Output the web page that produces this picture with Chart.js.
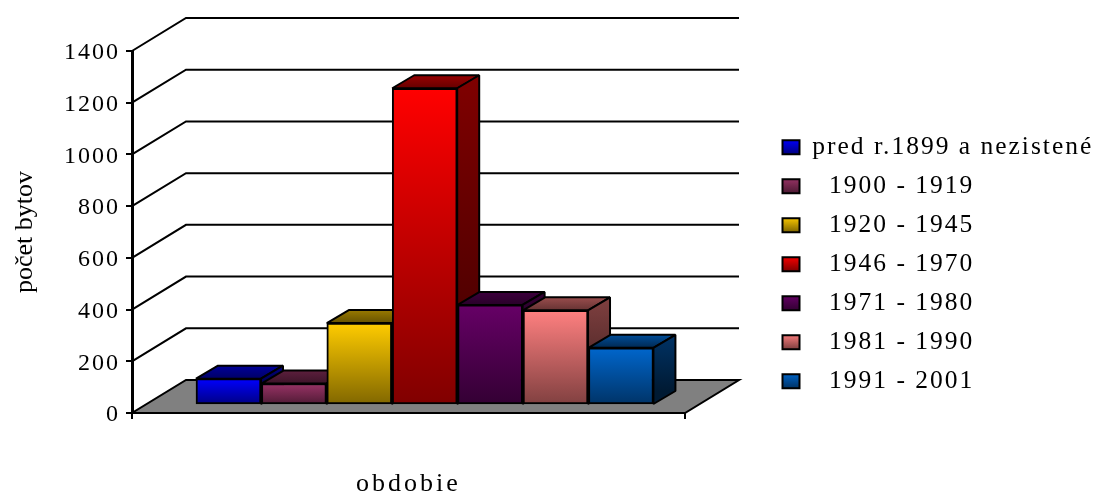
<!DOCTYPE html>
<html>
<head>
<meta charset="utf-8">
<title>počet bytov</title>
<script src="https://cdn.jsdelivr.net/npm/chart.js@4/dist/chart.umd.min.js"></script>
<style>
  html, body { margin: 0; background: #fff; }
  canvas { display: block; }
</style>
</head>
<body>
<canvas id="chart" width="1098" height="491"></canvas>
<script>
const categories = ['pred r.1899 a nezistené', '  1900 - 1919', '  1920 - 1945', '  1946 - 1970', '  1971 - 1980', '  1981 - 1990', '  1991 - 2001'];
const values = [102, 83, 317, 1225, 387, 366, 221];
const yTicks = [0, 200, 400, 600, 800, 1000, 1200, 1400];
const yTitle = 'počet bytov';
const xTitle = 'obdobie';

const topColors = ['#0000ff', '#993366', '#ffcc00', '#ff0000', '#660066', '#ff8080', '#0066cc'];
const bottomColors = ['#000080', '#4d1a33', '#806600', '#800000', '#330033', '#804040', '#003366'];
const roofBack = ['#000099', '#5c1f3d', '#997a00', '#990000', '#3d003d', '#994d4d', '#004d99'];
const roofFront = ['#000066', '#3d1429', '#665200', '#660000', '#290029', '#663333', '#002952'];
const sideTop = ['#000080', '#4d1a33', '#806600', '#800000', '#330033', '#804040', '#003366'];
const sideBottom = ['#000040', '#260d1a', '#403300', '#400000', '#1a001a', '#402020', '#001a33'];

// depth of the wall/floor, of the bars, and where the bars sit on the floor
const WALL = { dx: 54, dy: 33 };
const DEPTH = { dx: 22, dy: 13 };
const SHIFT = { x: 15, y: -8 };
const TEXT_SPACING = '2px';

function gradient(ctx, y0, y1, c0, c1) {
  const g = ctx.createLinearGradient(0, y0, 0, y1);
  g.addColorStop(0, c0);
  g.addColorStop(1, c1);
  return g;
}

function poly(ctx, pts, fill) {
  ctx.beginPath();
  pts.forEach((p, i) => i ? ctx.lineTo(p[0], p[1]) : ctx.moveTo(p[0], p[1]));
  ctx.closePath();
  if (fill) { ctx.fillStyle = fill; ctx.fill(); }
  ctx.stroke();
}

// axis titles have their own tracking, the reference text is stretched unevenly
function titleSpacing(scale, spacing) {
  if (scale._titleWrapped) return;
  const draw = scale.drawTitle;
  scale.drawTitle = function () {
    this.ctx.letterSpacing = spacing;
    draw.call(this);
    this.ctx.letterSpacing = TEXT_SPACING;
  };
  scale._titleWrapped = true;
}

const plot3d = {
  id: 'plot3d',
  beforeDraw(chart) {
    chart.ctx.letterSpacing = TEXT_SPACING;
    // legend sits outside the plot, next to it
    const lg = chart.legend;
    lg.left = 769;
    lg.right = 1098;
    lg.top = 121;
    lg.bottom = 491;
  },
  beforeDatasetsDraw(chart) {
    const { ctx, scales: { x, y } } = chart;
    const l = x.left, r = x.right, b = y.getPixelForValue(0);
    ctx.save();
    ctx.strokeStyle = '#000';
    ctx.lineWidth = 2;
    // back wall lines
    y.ticks.forEach(t => {
      const py = y.getPixelForValue(t.value);
      if (t.value === 0) return;
      ctx.beginPath();
      ctx.moveTo(l, py);
      ctx.lineTo(l + WALL.dx, py - WALL.dy);
      ctx.lineTo(r + WALL.dx, py - WALL.dy);
      ctx.stroke();
    });
    // floor
    poly(ctx, [[l, b], [r, b], [r + WALL.dx, b - WALL.dy], [l + WALL.dx, b - WALL.dy]], '#808080');
    // end ticks of the category axis
    ctx.beginPath();
    ctx.moveTo(l, b); ctx.lineTo(l, b + 6);
    ctx.moveTo(r, b); ctx.lineTo(r, b + 6);
    ctx.stroke();
    ctx.restore();
  },
  beforeDatasetDraw(chart, args) {
    const ctx = chart.ctx;
    ctx.save();
    ctx.translate(SHIFT.x, SHIFT.y);
    ctx.strokeStyle = '#000';
    ctx.lineWidth = 2;
    ctx.lineJoin = 'bevel';
    args.meta.data.forEach((bar, i) => {
      const left = bar.x - bar.width / 2, right = bar.x + bar.width / 2;
      const yt = bar.y, yb = bar.base;
      poly(ctx, [[left, yt], [left + DEPTH.dx, yt - DEPTH.dy], [right + DEPTH.dx, yt - DEPTH.dy], [right, yt]],
        gradient(ctx, yt - DEPTH.dy, yt, roofBack[i], roofFront[i]));
      poly(ctx, [[right, yt], [right + DEPTH.dx, yt - DEPTH.dy], [right + DEPTH.dx, yb - DEPTH.dy], [right, yb]],
        gradient(ctx, yt - DEPTH.dy, yb - DEPTH.dy, sideTop[i], sideBottom[i]));
      bar.draw(ctx);
    });
    ctx.restore();
    return false;
  }
};

new Chart(document.getElementById('chart'), {
  type: 'bar',
  data: {
    datasets: [{
      data: values.map((v, i) => ({ x: i, y: v })),
      barThickness: 65,
      borderColor: '#000',
      borderWidth: 2,
      borderSkipped: false,
      backgroundColor: c => {
        const s = c.chart.scales.y;
        if (!s || c.raw === undefined) return topColors[c.dataIndex || 0];
        return gradient(c.chart.ctx, s.getPixelForValue(c.raw.y), s.getPixelForValue(0), topColors[c.dataIndex], bottomColors[c.dataIndex]);
      }
    }]
  },
  plugins: [plot3d],
  options: {
    responsive: false,
    animation: false,
    layout: { padding: { top: 51, right: 413, left: 0, bottom: 0 }, autoPadding: false },
    scales: {
      x: {
        type: 'linear',
        offset: false,
        min: -1.246,
        max: 7.209,
        ticks: { display: false },
        grid: { display: false },
        border: { display: false },
        title: {
          display: true,
          text: xTitle,
          color: '#000',
          font: { family: '"Liberation Serif"', size: 26, lineHeight: 0.55 },
          padding: 0
        },
        afterFit: s => { s.height = 78; titleSpacing(s, '3px'); }
      },
      y: {
        min: 0,
        max: 1400,
        afterBuildTicks: s => { s.ticks = yTicks.map(value => ({ value })); },
        ticks: {
          color: '#000',
          padding: 6,
          labelOffset: 2,
          font: { family: '"Liberation Serif"', size: 24 },
          callback: v => String(v)
        },
        grid: { drawOnChartArea: false, drawTicks: true, tickLength: 6, color: '#000', lineWidth: 2 },
        border: { color: '#000', width: 3 },
        title: {
          display: true,
          text: yTitle,
          color: '#000',
          font: { family: '"Liberation Serif"', size: 26 },
          padding: { top: 10, bottom: 0 }
        },
        afterFit: s => { s.width = 132; titleSpacing(s, '0px'); }
      }
    },
    plugins: {
      tooltip: { enabled: false },
      legend: {
        position: 'chartArea',
        align: 'start',
        labels: {
          color: '#000',
          boxWidth: 17,
          boxHeight: 14,
          padding: 13.5,
          font: { family: '"Liberation Serif"', size: 25.5 },
          generateLabels: chart => categories.map((text, i) => ({
            text,
            index: i,
            fontColor: '#000',
            lineWidth: 2,
            strokeStyle: '#000',
            fillStyle: gradient(chart.ctx, 139 + 39 * i, 154 + 39 * i, topColors[i], bottomColors[i])
          }))
        }
      }
    }
  }
});
</script>
</body>
</html>
